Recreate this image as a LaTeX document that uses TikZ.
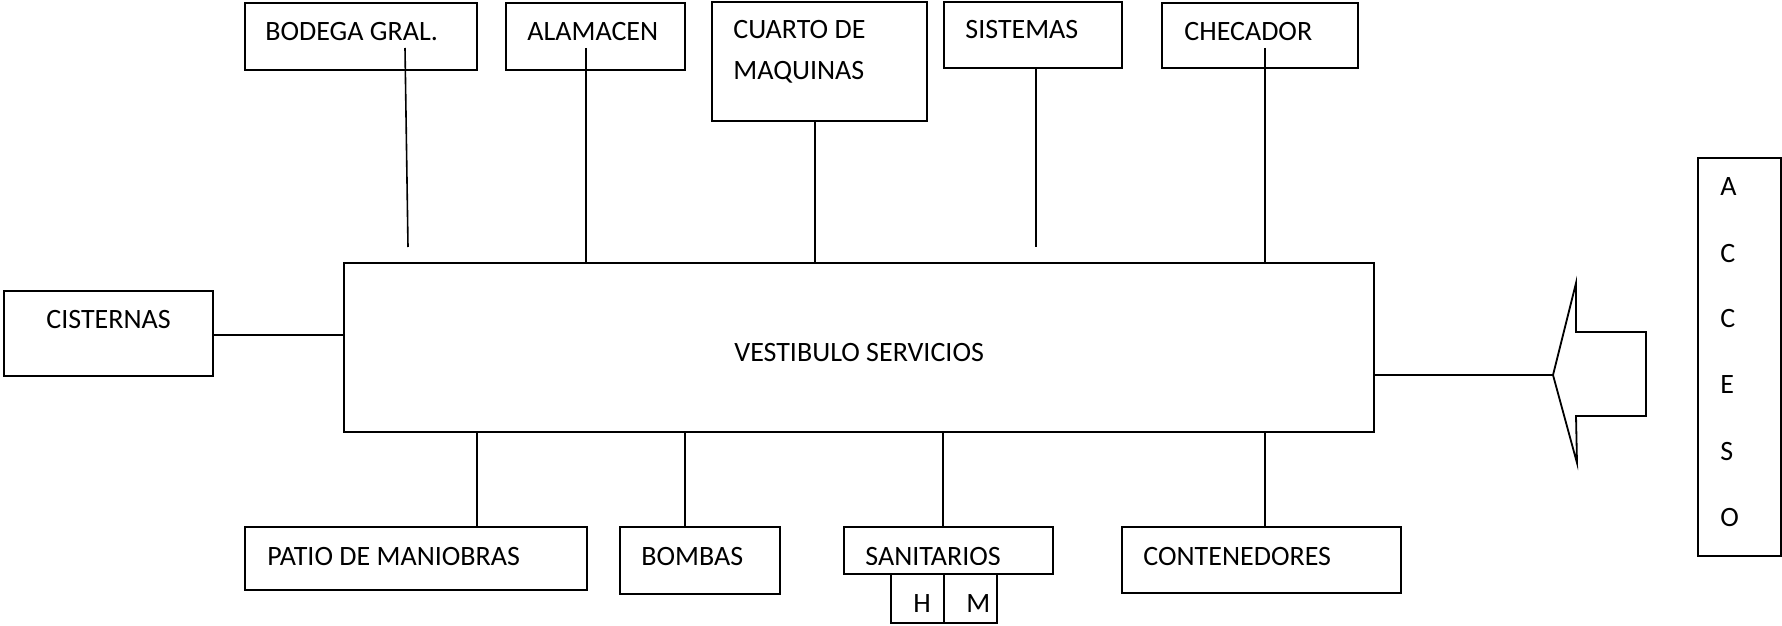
\documentclass[tikz,border=0pt]{standalone}
\usepackage{fontspec}
\setmainfont{Carlito}
\usetikzlibrary{fit}
\begin{document}
\begin{tikzpicture}[x=0.5pt,y=-0.5pt,
  box/.style={draw, line width=1pt, inner sep=0pt},
  lbl/.style={anchor=base west, inner sep=0pt, font=\fontsize{14}{16}\selectfont},
  conn/.style={line width=0.8pt}]
\useasboundingbox (0,0) rectangle (1782,626);
% boxes
\node[box, fit={(245,3)(477,70)}] (bodega) {};
\node[box, fit={(506,3)(685,70)}] (alm) {};
\node[box, fit={(712,2)(927,121)}] (cuarto) {};
\node[box, fit={(944,2)(1122,68)}] (sist) {};
\node[box, fit={(1162,3)(1358,68)}] (chec) {};
\node[box, fit={(4,291)(213,376)}] (cist) {};
\node[box, fit={(344,263)(1374,432)}] (vest) {};
\node[box, fit={(245,527)(587,590)}] (patio) {};
\node[box, fit={(620,527)(780,594)}] (bombas) {};
\node[box, fit={(891,574)(944,623)}] (hbox) {};
\node[box, fit={(944,574)(997,623)}] (mbox) {};
\node[box, fit={(844,527)(1053,574)}, fill=white] (sanit) {};
\node[box, fit={(1122,527)(1401,593)}] (cont) {};
\node[box, fit={(1698,158)(1781,556)}] (acceso) {};
% labels
\node[lbl] (tbod) at (265,41) {BODEGA GRAL.};
\node[lbl] (talm) at (527,41) {ALAMACEN};
\node[lbl] (tcua1) at (733,39) {CUARTO DE};
\node[lbl] (tcua2) at (733,80) {MAQUINAS};
\node[lbl] (tsis) at (965,39) {SISTEMAS};
\node[lbl] (tche) at (1184,41) {CHECADOR};
\node[lbl] (tcis) at (46,328) {CISTERNAS};
\node[lbl] (tves) at (734,361) {VESTIBULO SERVICIOS};
\node[lbl] (tpat) at (267,565) {PATIO DE MANIOBRAS};
\node[lbl] (tbom) at (641,565) {BOMBAS};
\begin{scope}
\clip (844,527) rectangle (1053,564);
\node[lbl] (tsan) at (865,565.5) {SANITARIOS};
\end{scope}
\node[lbl] (tcon) at (1143,565) {CONTENEDORES};
\node[lbl] (th) at (913,612) {H};
\node[lbl] (tm) at (966,612) {M};
\node[lbl] (ta1) at (1720,195) {A};
\node[lbl] (ta2) at (1720,262) {C};
\node[lbl] (ta3) at (1720,327) {C};
\node[lbl] (ta4) at (1720,393) {E};
\node[lbl] (ta5) at (1720,460) {S};
\node[lbl] (ta6) at (1720,526) {O};
% connector end points
\coordinate (bodtop) at (405,48);
\coordinate (bodbot) at (408,247);
\coordinate (almtop) at (586,48);
\coordinate (cuabot) at (815,121);
\coordinate (sisbot) at (1036,68);
\coordinate (sisend) at (1036,247);
\coordinate (chetop) at (1265,48);
\coordinate (cisr) at (213,335);
\coordinate (patx) at (477,432);
\coordinate (bomx) at (685,432);
\coordinate (sanx) at (943,432);
\coordinate (conx) at (1265,432);
\coordinate (vr) at (1374,375);
\coordinate (atip) at (1553,375);
% connectors
\draw[conn] (bodtop) -- (bodbot);
\draw[conn] (almtop) -- (almtop |- vest.north);
\draw[conn] (cuabot) -- (cuabot |- vest.north);
\draw[conn] (sisbot) -- (sisend);
\draw[conn] (chetop) -- (chetop |- vest.north);
\draw[conn] (cisr) -- (cisr -| vest.west);
\draw[conn] (patx) -- (patx |- patio.north);
\draw[conn] (bomx) -- (bomx |- bombas.north);
\draw[conn] (sanx) -- (sanx |- sanit.north);
\draw[conn] (conx) -- (conx |- cont.north);
\draw[conn] (vr) -- (atip);
% access arrow
\draw[line width=0.9pt] (1576,283) -- (1576,332) -- (1646,332) -- (1646,416) -- (1576,416) -- (1577,463) -- (atip) -- cycle;
\end{tikzpicture}
\end{document}
